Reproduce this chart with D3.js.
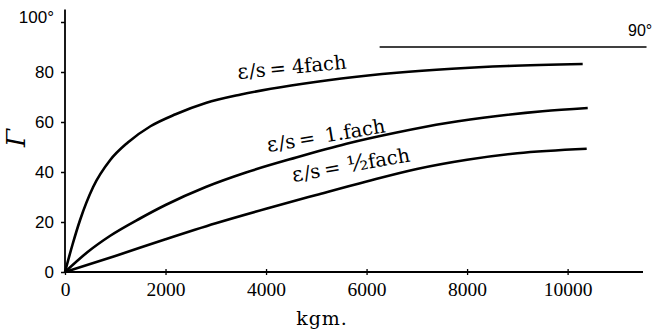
<!DOCTYPE html>
<html>
<head>
<meta charset="utf-8">
<script src="https://cdn.jsdelivr.net/npm/d3@7"></script>
<style>
  body { margin: 0; background: #fff; }
  svg { display: block; }
</style>
</head>
<body>
<svg id="chart" width="654" height="334"></svg>
<script>
// kgm values and Γ (degrees)
const kgm4 = [0, 150, 300, 560, 900, 1250, 1700, 2200, 2800, 3500, 4500, 5500, 6600, 7700, 8800, 10300]
const gamma4 = [0, 11, 20.8, 34, 44.8, 51.8, 58.3, 63.1, 67.6, 71, 74.6, 77.4, 79.7, 81.3, 82.4, 83.2]

const kgm1 = [0, 450, 900, 1500, 2000, 2800, 3600, 4600, 5600, 6600, 7600, 8600, 9500, 10400]
const gamma1 = [0, 8, 14.5, 21.5, 26.8, 34, 39.8, 45.8, 51.3, 55.8, 59.6, 62.4, 64.3, 65.6]

const kgmHalf = [0, 1000, 2000, 3000, 4000, 5000, 6000, 7000, 8000, 9000, 10380]
const gammaHalf = [0, 6.4, 13.1, 19.5, 25.3, 30.8, 36.2, 41.2, 44.9, 47.5, 49.3]

const limitKgm = [6260, 11570]
const limitGamma = 90

const xTicks = [0, 2000, 4000, 6000, 8000, 10000]
const yTicks = [0, 20, 40, 60, 80, 100]

// label anchors (kgm, Γ) and slope in degrees
const curveLabels = [
  {factor: "4fach", at: [3440, 77.2], angle: -5.5, gap: 6},
  {factor: "1.fach", at: [4040, 48], angle: -9.5, gap: 10},
  {factor: "½fach", at: [4540, 36], angle: -10, gap: 7}
]

const svg = d3.select("#chart")
const x = d3.scaleLinear().domain([0, 11500]).range([65, 643])
const y = d3.scaleLinear().domain([0, 100]).range([272, 22])

const serif = "'DejaVu Serif', serif"
const sans = "'Liberation Sans', Arial, sans-serif"

// axis lines
svg.append("line")
  .attr("x1", x(0)).attr("x2", x(0))
  .attr("y1", y(0)).attr("y2", y(105))
  .attr("stroke", "#000").attr("stroke-width", 1.8)
svg.append("line")
  .attr("x1", x(0)).attr("x2", x(11500))
  .attr("y1", y(0)).attr("y2", y(0))
  .attr("stroke", "#000").attr("stroke-width", 1.8)

const yAxis = svg.append("g")
  .attr("transform", "translate(" + x(0) + ",0)")
  .call(d3.axisLeft(y).tickValues(yTicks).tickSize(4)
    .tickFormat(d => d == 100 ? "100°" : d))
yAxis.select(".domain").remove()
yAxis.selectAll("line").attr("stroke-width", 1.5)
yAxis.selectAll("text")
  .attr("x", -11)
  .style("font-family", sans).style("font-size", "17px")
yAxis.selectAll(".tick").filter(d => d == 100).select("text").attr("dy", "0.05em")

const xAxis = svg.append("g")
  .attr("transform", "translate(0," + y(0) + ")")
  .call(d3.axisBottom(x).tickValues(xTicks).tickSize(3).tickFormat(d3.format("d")))
xAxis.select(".domain").remove()
xAxis.selectAll("line").attr("y1", -3).attr("stroke-width", 1.3)
xAxis.selectAll("text")
  .attr("y", 24).attr("dy", null)
  .style("font-family", "'Liberation Serif', serif").style("font-size", "19.5px")

// curves
const line = d3.line()
  .x(d => x(d[0])).y(d => y(d[1]))
  .curve(d3.curveMonotoneX)
const series = [
  d3.zip(kgm4, gamma4),
  d3.zip(kgm1, gamma1),
  d3.zip(kgmHalf, gammaHalf)
]
svg.selectAll("path.curve")
  .data(series)
  .enter().append("path")
  .attr("class", "curve")
  .attr("d", line)
  .attr("fill", "none")
  .attr("stroke", "#000")
  .attr("stroke-width", 2.6)

// 90° limit line
svg.append("line")
  .attr("x1", x(limitKgm[0])).attr("x2", x(limitKgm[1]))
  .attr("y1", y(limitGamma)).attr("y2", y(limitGamma))
  .attr("stroke", "#000").attr("stroke-width", 1.6)
svg.append("text")
  .attr("x", 628).attr("y", y(limitGamma) - 11)
  .style("font-family", sans).style("font-size", "16px")
  .text(limitGamma + "°")

// curve labels
curveLabels.forEach(function(l) {
  const t = svg.append("text")
    .attr("transform", "translate(" + x(l.at[0]) + "," + y(l.at[1]) + ") rotate(" + l.angle + ")")
    .style("font-family", serif).style("font-size", "19.5px")
  t.append("tspan").style("font-size", "21px").text("ε")
  t.append("tspan").attr("dx", 1).text("/s")
  t.append("tspan").attr("dx", 4).text("=")
  if (l.factor.startsWith("½")) {
    t.append("tspan").attr("dx", l.gap).style("font-size", "22px").text("½")
    t.append("tspan").text(l.factor.slice(1))
  } else {
    t.append("tspan").attr("dx", l.gap).text(l.factor)
  }
})

// axis titles
svg.append("text")
  .attr("x", 322).attr("y", 325)
  .attr("text-anchor", "middle")
  .style("font-family", serif).style("font-size", "19px")
  .style("letter-spacing", "1px")
  .text("kgm.")
svg.append("text")
  .attr("transform", "translate(25,138) rotate(-90)")
  .attr("text-anchor", "middle")
  .style("font-family", serif).style("font-size", "26px").style("font-style", "italic")
  .text("Γ")
</script>
</body>
</html>
